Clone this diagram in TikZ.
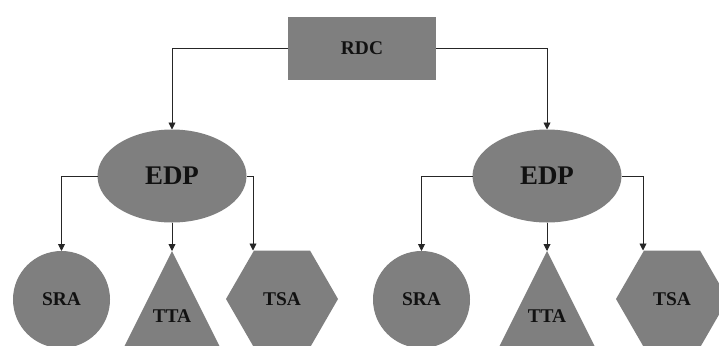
\documentclass[tikz,border=0pt]{standalone}
\usepackage{fontspec}
\setmainfont{Liberation Serif}
\usetikzlibrary{arrows.meta,shapes.geometric}
\definecolor{shapegray}{RGB}{127,127,127}
\definecolor{txt}{RGB}{17,17,17}
\begin{document}
\begin{tikzpicture}[x=1bp,y=-1bp,
  shp/.style={fill=shapegray,draw=none,inner sep=0pt,outer sep=0pt,text=txt,font=\bfseries\fontsize{19.5}{20}\selectfont},
  big/.style={font=\bfseries\fontsize{27}{28}\selectfont},
  lbl/.style={text=txt,inner sep=0pt,font=\bfseries\fontsize{19.5}{20}\selectfont},
  conn/.style={draw=black!85,line width=0.9bp,-{Triangle[width=7bp,length=7bp]}}]
\useasboundingbox (0,0) rectangle (719,345);
\clip (0,0) rectangle (719,345);
% top box
\node[shp,rectangle,minimum width=148bp,minimum height=63bp] (rdc) at (362,48.5) {RDC};
% ellipses
\node[shp,big,ellipse,minimum width=149bp,minimum height=93bp] (edpA) at (172,176) {EDP};
\node[shp,big,ellipse,minimum width=149bp,minimum height=93bp] (edpB) at (547,176) {EDP};
% circles
\node[shp,circle,minimum size=97bp] (sraA) at (61.5,299.5) {SRA};
\node[shp,circle,minimum size=97bp] (sraB) at (421.5,299.5) {SRA};
% triangles
\coordinate (ttaAtop) at (172,251);
\coordinate (ttaBtop) at (547,251);
\fill[shapegray] (ttaAtop) -- (172-60,371) -- (172+60,371) -- cycle;
\fill[shapegray] (ttaBtop) -- (547-60,371) -- (547+60,371) -- cycle;
\node[lbl] (ttaA) at (172,316) {TTA};
\node[lbl] (ttaB) at (547,316) {TTA};
% hexagons
\node[shp,regular polygon,regular polygon sides=6,minimum size=112bp] (tsaA) at (282,299) {TSA};
\node[shp,regular polygon,regular polygon sides=6,minimum size=112bp] (tsaB) at (672,299) {TSA};
\coordinate (tsaAin) at (253,250.5);
\coordinate (tsaBin) at (643,250.5);
% connectors
\draw[conn] (rdc.west) -| (edpA.north);
\draw[conn] (rdc.east) -| (edpB.north);
\draw[conn] (edpA.west) -| (sraA.north);
\draw[conn] (edpA.south) -- (ttaAtop);
\draw[conn] (edpA.east) -| (tsaAin);
\draw[conn] (edpB.west) -| (sraB.north);
\draw[conn] (edpB.south) -- (ttaBtop);
\draw[conn] (edpB.east) -| (tsaBin);
\end{tikzpicture}
\end{document}
